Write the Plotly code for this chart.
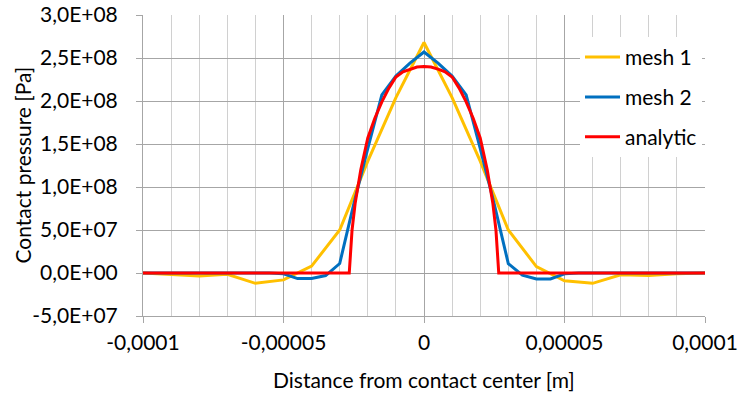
import plotly.graph_objects as go

# ---- data (x in metres, pressure in Pa) ----
mesh1_x = [-1.0e-4, -9e-5, -8e-5, -7e-5, -6e-5, -5e-5, -4e-5, -3e-5, -2e-5, -1e-5, 0.0,
           1e-5, 2e-5, 3e-5, 4e-5, 5e-5, 6e-5, 7e-5, 8e-5, 9e-5, 1.0e-4]
mesh1_y = [0.0, -1.5e6, -3.5e6, -1.5e6, -1.2e7, -8.0e6, 8.0e6, 5.0e7, 1.3e8, 2.04e8, 2.68e8,
           2.04e8, 1.3e8, 5.0e7, 7.5e6, -9.0e6, -1.2e7, -2.0e6, -3.0e6, -1.0e6, 0.0]

mesh2_x = [-1.0e-4, -9.5e-5, -9e-5, -8.5e-5, -8e-5, -7.5e-5, -7e-5, -6.5e-5, -6e-5, -5.5e-5,
           -5e-5, -4.5e-5, -4e-5, -3.5e-5, -3e-5, -2.5e-5, -2e-5, -1.5e-5, -1e-5, -5e-6, 0.0,
           5e-6, 1e-5, 1.5e-5, 2e-5, 2.5e-5, 3e-5, 3.5e-5, 4e-5, 4.5e-5, 5e-5,
           5.5e-5, 6e-5, 6.5e-5, 7e-5, 7.5e-5, 8e-5, 8.5e-5, 9e-5, 9.5e-5, 1.0e-4]
mesh2_y = [0, 0, 0, 0, 0, 0, 0, 0, 0, 0,
           -1.0e6, -6.5e6, -6.5e6, -3.0e6, 1.1e7, 8.0e7, 1.45e8, 2.07e8, 2.29e8, 2.44e8, 2.57e8,
           2.44e8, 2.29e8, 2.07e8, 1.45e8, 8.0e7, 1.1e7, -2.5e6, -7.0e6, -7.0e6, -1.0e6,
           0, 0, 0, 0, 0, 0, 0, 0, 0, 0]

analytic_x = [-1.0e-4, -2.66e-5, -2.56e-5, -2.45e-5, -2.25e-5, -2.0e-5, -1.75e-5, -1.5e-5,
              -1.25e-5, -1.0e-5, -7.5e-6, -5e-6, -2.5e-6, 0.0, 2.5e-6, 5e-6, 7.5e-6, 1.0e-5,
              1.25e-5, 1.5e-5, 1.75e-5, 2.0e-5, 2.25e-5, 2.45e-5, 2.56e-5, 2.66e-5, 1.0e-4]
analytic_y = [0.0, 0.0, 5.0e7, 8.1e7, 1.2e8, 1.57e8, 1.8e8, 1.99e8,
              2.15e8, 2.28e8, 2.34e8, 2.37e8, 2.395e8, 2.40e8, 2.395e8, 2.37e8, 2.34e8, 2.28e8,
              2.15e8, 1.99e8, 1.8e8, 1.57e8, 1.2e8, 8.1e7, 5.0e7, 0.0, 0.0]

x_tickvals = [-1e-4, -5e-5, 0, 5e-5, 1e-4]
x_ticktext = ["-0,0001", "-0,00005", "0", "0,00005", "0,0001"]
y_tickvals = [-5e7, 0, 5e7, 1e8, 1.5e8, 2e8, 2.5e8, 3e8]
y_ticktext = ["-5,0E+07", "0,0E+00", "5,0E+07", "1,0E+08", "1,5E+08", "2,0E+08", "2,5E+08", "3,0E+08"]

FONT = "Lato"
fs = 21

fig = go.Figure()
fig.add_trace(go.Scatter(x=mesh1_x, y=mesh1_y, mode="lines", name="mesh 1",
                         line=dict(color="#FFC000", width=3), legendgroup="a"))
fig.add_trace(go.Scatter(x=mesh2_x, y=mesh2_y, mode="lines", name="mesh 2",
                         line=dict(color="#0070C0", width=3), legendgroup="b"))
fig.add_trace(go.Scatter(x=analytic_x, y=analytic_y, mode="lines", name="analytic",
                         line=dict(color="#FF0000", width=3), legendgroup="c"))

fig.update_layout(
    width=738, height=396,
    margin=dict(l=143, r=33, t=15, b=80, autoexpand=False),
    paper_bgcolor="white", plot_bgcolor="white",
    font=dict(family=FONT, size=fs, color="#000000"),
    showlegend=True,
    legend=dict(x=0.7776, y=0.927, xanchor="left", yanchor="top",
                bgcolor="white", font=dict(family=FONT, size=fs),
                traceorder="grouped", tracegroupgap=9.5, itemwidth=35),
    xaxis=dict(range=[-1e-4, 1e-4], tickvals=x_tickvals, ticktext=x_ticktext,
               automargin=False,
               showgrid=True, gridcolor="#A6A6A6", gridwidth=1,
               minor=dict(dtick=1e-5, tick0=0, showgrid=True, gridcolor="#D0D0D0", gridwidth=1),
               zeroline=False, showline=True, linecolor="#A6A6A6", linewidth=1,
               ticks="outside", ticklen=6, tickcolor="#A6A6A6",
               ticklabelstandoff=2, tickfont=dict(family=FONT, size=fs)),
    yaxis=dict(range=[-5e7, 3e8], tickvals=y_tickvals, ticktext=y_ticktext,
               automargin=False,
               showgrid=True, gridcolor="#A6A6A6", gridwidth=1,
               zeroline=True, zerolinecolor="#A0A0A0", zerolinewidth=1,
               showline=True, linecolor="#A6A6A6", linewidth=1,
               ticks="outside", ticklen=6, tickcolor="#A6A6A6",
               ticklabelstandoff=14, tickfont=dict(family=FONT, size=fs)),
    annotations=[
        dict(text="Distance from contact center [m]", xref="paper", yref="paper",
             x=0.5, y=-0.2126, xanchor="center", yanchor="middle", showarrow=False,
             font=dict(family=FONT, size=fs)),
        dict(text="Contact pressure [Pa]", xref="paper", yref="paper",
             x=-0.2153, y=0.5, xanchor="center", yanchor="middle", showarrow=False,
             textangle=-90, font=dict(family=FONT, size=fs)),
    ],
)

fig.write_html("out.html")
